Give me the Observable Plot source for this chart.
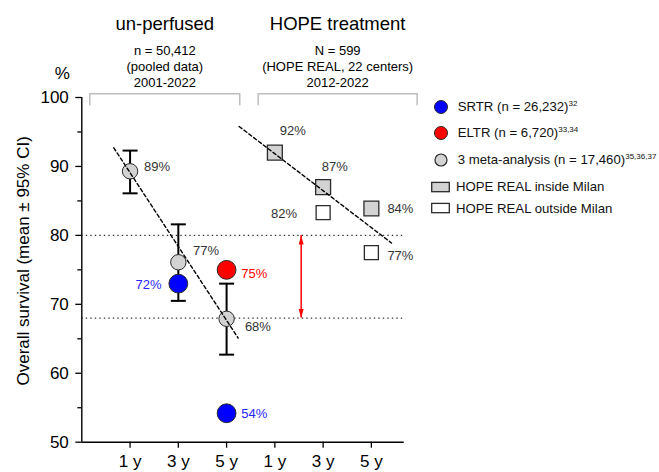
<!DOCTYPE html>
<html>
<head>
<meta charset="utf-8">
<script src="https://cdn.jsdelivr.net/npm/d3@7"></script>
<script src="https://cdn.jsdelivr.net/npm/@observablehq/plot@0.6"></script>
<style>
  body { margin: 0; background: white; font-family: 'Liberation Sans', Arial, sans-serif; }
  #wrap { position: relative; width: 659px; height: 472px; overflow: hidden; }
  .lg { position: absolute; left: 430px; height: 18px; display: flex; align-items: center; font-size: 13.2px; color: #111; line-height: 1; white-space: nowrap; }
  .lg sup { font-size: 8px; vertical-align: 5px; line-height: 1; }
</style>
</head>
<body>
<div id="wrap"></div>
<script>
// ---------- data ----------
const periodLabels = ["1 y", "3 y", "5 y", "1 y", "3 y", "5 y"];
const periodPos = [1, 2, 3, 4, 5, 6];

const groupTitles = ["un-perfused", "HOPE treatment"];
const groupNotes = ["n = 50,412\n(pooled data)\n2001-2022", "N = 599\n(HOPE REAL, 22 centers)\n2012-2022"];
const groupStart = [0.166, 3.654];
const groupEnd = [3.273, 6.948];

// 3 meta-analysis (mean, 95% CI)
const metaPos = [1, 2, 3];
const metaMean = [89.3, 76.1, 67.9];
const metaLow = [86.1, 70.5, 62.7];
const metaHigh = [92.3, 81.6, 73.0];
const metaLabels = ["89%", "77%", "68%"];

// SRTR
const srtrPos = [2, 3];
const srtrVal = [73.0, 54.2];
const srtrLabels = ["72%", "54%"];

// ELTR
const eltrPos = [3];
const eltrVal = [75.0];
const eltrLabels = ["75%"];

// HOPE REAL inside Milan
const insidePos = [4, 5, 6];
const insideVal = [92.0, 87.0, 83.9];
const insideLabels = ["92%", "87%", "84%"];

// HOPE REAL outside Milan
const outsidePos = [5, 6];
const outsideVal = [83.3, 77.5];
const outsideLabels = ["82%", "77%"];

// reference lines and gap arrow
const refLevels = [80, 68];
const gapPos = 4.545;

// dashed trend lines
const trendGroup = ["un-perfused", "un-perfused", "HOPE", "HOPE"];
const trendX = [0.663, 3.24, 3.26, 6.416];
const trendY = [92.7, 65.1, 95.8, 78.9];

// y ticks
const yMajor = [50, 60, 70, 80, 90, 100];
const yMinor = [55, 65, 75, 85, 95];

// legend
const legendLabels = ["SRTR (n = 26,232)", "ELTR (n = 6,720)", "3 meta-analysis (n = 17,460)", "HOPE REAL inside Milan", "HOPE REAL outside Milan"];
const legendRefs = ["32", "33,34", "35,36,37", "", ""];

// ---------- layout / style (not data) ----------
const C = { blue: "#0000ff", red: "#ff0000", gray: "#d3d3d3", edge: "#2a2a2a", label: "#333", blueText: "#2626ff" };
const metaOff = [[14, -4], [14.6, -11], [18.3, 8.4]];
const srtrOff = [[-16.7, 0.7, "end"], [14.7, 0.7, "start"]];
const eltrOff = [[14.7, 3.7]];
const insideOff = [[18, -22, "middle"], [11.7, -20, "middle"], [16, 0, "start"]];
const outsideOff = [[-39, 1, "middle"], [16, 3.4, "start"]];
const bracketTop = 100.54, bracketBottom = 98.94;
const legendY = [106.7, 132.7, 160, 186.7, 208.3];

// custom symbols
const capSymbol = { draw(ctx, size) { const r = Math.sqrt(size / Math.PI); ctx.moveTo(-r, 0); ctx.lineTo(r, 0); } };
const headUp = { draw(ctx, size) { const r = Math.sqrt(size / Math.PI); ctx.moveTo(0, 0); ctx.lineTo(r * 0.5, r * 1.8); ctx.lineTo(-r * 0.5, r * 1.8); ctx.closePath(); } };
const headDown = { draw(ctx, size) { const r = Math.sqrt(size / Math.PI); ctx.moveTo(0, 0); ctx.lineTo(r * 0.5, -r * 1.8); ctx.lineTo(-r * 0.5, -r * 1.8); ctx.closePath(); } };

// ---------- tables ----------
const meta = metaPos.map((p, i) => ({ p, v: metaMean[i], lo: metaLow[i], hi: metaHigh[i], t: metaLabels[i], dx: metaOff[i][0], dy: metaOff[i][1] }));
const srtr = srtrPos.map((p, i) => ({ p, v: srtrVal[i], t: srtrLabels[i], dx: srtrOff[i][0], dy: srtrOff[i][1], a: srtrOff[i][2] }));
const eltr = eltrPos.map((p, i) => ({ p, v: eltrVal[i], t: eltrLabels[i], dx: eltrOff[i][0], dy: eltrOff[i][1] }));
const inside = insidePos.map((p, i) => ({ p, v: insideVal[i], t: insideLabels[i], dx: insideOff[i][0], dy: insideOff[i][1], a: insideOff[i][2] }));
const outside = outsidePos.map((p, i) => ({ p, v: outsideVal[i], t: outsideLabels[i], dx: outsideOff[i][0], dy: outsideOff[i][1], a: outsideOff[i][2] }));
const groups = groupTitles.map((t, i) => ({ t, note: groupNotes[i], x0: groupStart[i], x1: groupEnd[i], c: (groupStart[i] + groupEnd[i]) / 2 }));
const brackets = groups.flatMap(g => [
  { g: g.t, x: g.x0, y: bracketBottom }, { g: g.t, x: g.x0, y: bracketTop },
  { g: g.t, x: g.x1, y: bracketTop }, { g: g.t, x: g.x1, y: bracketBottom }
]);
const trend = trendX.map((x, i) => ({ g: trendGroup[i], x, y: trendY[i] }));

function labelMarks(rows, fill) {
  return rows.map(r => Plot.text([r], { x: "p", y: "v", text: "t", dx: r.dx, dy: r.dy, textAnchor: r.a || "start", fill, fontSize: 13 }));
}

const xMax = 6.68;
const chart = Plot.plot({
  width: 659, height: 472,
  marginLeft: 81.3, marginRight: 255.3, marginTop: 97, marginBottom: 30.3,
  x: { domain: [0, xMax], label: null },
  y: { domain: [50, 100], label: null },
  style: { fontFamily: "'Liberation Sans', Arial, sans-serif", fontSize: "13px", color: "#000", background: "white", overflow: "visible" },
  marks: [
    Plot.ruleY(refLevels, { stroke: "#333", strokeWidth: 1.3, strokeDasharray: "1.4,3.1" }),
    Plot.line(brackets, { x: "x", y: "y", z: "g", stroke: "#bdbdbd", strokeWidth: 1.5 }),
    Plot.ruleX([0], { y1: 50, y2: 100, stroke: "#000", strokeWidth: 1.4 }),
    Plot.ruleY([50], { x1: 0, x2: xMax, stroke: "#000", strokeWidth: 1.4 }),
    Plot.axisY({ ticks: yMajor, tickSize: 6, tickPadding: 7, fontSize: 17, strokeWidth: 1.3, label: null }),
    Plot.axisY({ ticks: yMinor, tickSize: 4, tickFormat: () => "", strokeWidth: 1.3, label: null }),
    Plot.axisX({ ticks: periodPos, tickFormat: d => periodLabels[d - 1], tickSize: 6, tickPadding: 7, fontSize: 17, strokeWidth: 1.3, label: null }),
    // gap arrow
    Plot.ruleX([gapPos], { y1: refLevels[1], y2: refLevels[0], stroke: C.red, strokeWidth: 1.5 }),
    Plot.dot([{ x: gapPos, y: refLevels[0] }], { x: "x", y: "y", symbol: headUp, r: 5, fill: C.red, stroke: "none" }),
    Plot.dot([{ x: gapPos, y: refLevels[1] }], { x: "x", y: "y", symbol: headDown, r: 5, fill: C.red, stroke: "none" }),
    // error bars
    Plot.ruleX(meta, { x: "p", y1: "lo", y2: "hi", stroke: "#000", strokeWidth: 2 }),
    Plot.dot(meta, { x: "p", y: "lo", symbol: capSymbol, r: 7.5, fill: "none", stroke: "#000", strokeWidth: 2 }),
    Plot.dot(meta, { x: "p", y: "hi", symbol: capSymbol, r: 7.5, fill: "none", stroke: "#000", strokeWidth: 2 }),
    // points
    Plot.dot(meta, { x: "p", y: "v", r: 7.7, fill: C.gray, stroke: C.edge, strokeWidth: 1 }),
    Plot.dot(srtr, { x: "p", y: "v", r: 9.4, fill: C.blue, stroke: C.edge, strokeWidth: 1 }),
    Plot.dot(eltr, { x: "p", y: "v", r: 9.4, fill: C.red, stroke: C.edge, strokeWidth: 1 }),
    Plot.dot(inside, { x: "p", y: "v", symbol: "square", r: 8.4, fill: C.gray, stroke: C.edge, strokeWidth: 1.3 }),
    Plot.dot(outside, { x: "p", y: "v", symbol: "square", r: 7.9, fill: "white", stroke: C.edge, strokeWidth: 1.3 }),
    // trend lines
    Plot.line(trend, { x: "x", y: "y", z: "g", stroke: "#000", strokeWidth: 1.4, strokeDasharray: "3.5,2.6" }),
    // value labels
    ...labelMarks(meta, C.label),
    ...labelMarks(srtr, C.blueText),
    ...labelMarks(eltr, C.red),
    ...labelMarks(inside, C.label),
    ...labelMarks(outside, C.label),
    // group titles and notes
    Plot.text(groups, { x: "c", text: "t", frameAnchor: "top", dy: -68, lineAnchor: "bottom", fontSize: 18.5, fill: "#000" }),
    Plot.text(groups, { x: "c", text: "note", frameAnchor: "top", dy: -10.3, lineAnchor: "bottom", lineHeight: 1.22, fontSize: 13, fill: "#000" }),
    // unit and axis title
    Plot.text(["%"], { frameAnchor: "top-left", dx: -19.6, dy: -18.7, lineAnchor: "bottom", textAnchor: "middle", fontSize: 17, fill: "#000" }),
    Plot.text(["Overall survival (mean ± 95% CI)"], { frameAnchor: "left", dx: -58, dy: -9, rotate: -90, textAnchor: "middle", lineAnchor: "middle", fontSize: 17, fill: "#000" })
  ]
});

const wrap = document.getElementById("wrap");
wrap.appendChild(chart);

// legend (HTML)
const swatches = [
  '<circle cx="11" cy="9" r="6.5" fill="' + C.blue + '" stroke="' + C.edge + '" stroke-width="1"/>',
  '<circle cx="11" cy="9" r="6.5" fill="' + C.red + '" stroke="' + C.edge + '" stroke-width="1"/>',
  '<circle cx="11" cy="9" r="6" fill="' + C.gray + '" stroke="' + C.edge + '" stroke-width="1.2"/>',
  '<rect x="1.7" y="4.4" width="17.6" height="9.3" fill="' + C.gray + '" stroke="' + C.edge + '" stroke-width="1.3"/>',
  '<rect x="1.7" y="4.4" width="17.6" height="9.3" fill="white" stroke="' + C.edge + '" stroke-width="1.3"/>'
];
const textLeft = [27.7, 27.7, 27.7, 26, 26];
legendLabels.forEach((lab, i) => {
  const row = document.createElement("div");
  row.className = "lg";
  row.style.top = (legendY[i] - 9) + "px";
  row.innerHTML = '<svg width="' + textLeft[i] + '" height="18" style="flex:none">' + swatches[i] + '</svg><span>' + lab + (legendRefs[i] ? '<sup>' + legendRefs[i] + '</sup>' : '') + '</span>';
  wrap.appendChild(row);
});
</script>
</body>
</html>
